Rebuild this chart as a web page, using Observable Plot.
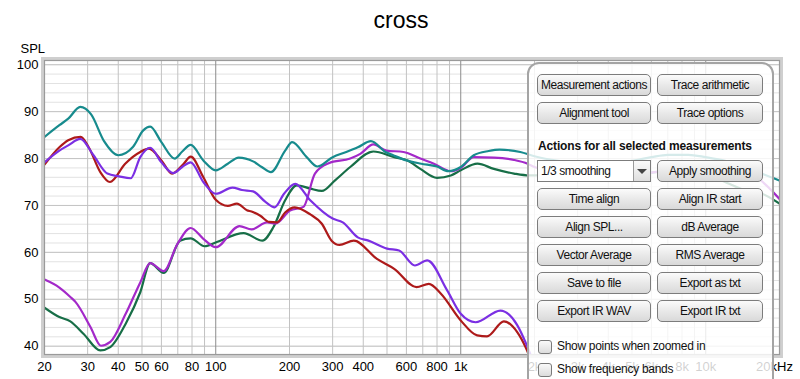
<!DOCTYPE html>
<html><head><meta charset="utf-8">
<script src="https://cdn.jsdelivr.net/npm/d3@7"></script>
<script src="https://cdn.jsdelivr.net/npm/@observablehq/plot@0.6"></script>
<style>
body{margin:0;background:#fff;overflow:hidden;}
#wrap{position:relative;width:800px;height:379px;font-family:"Liberation Sans",Arial,sans-serif;overflow:hidden;}
#panel{position:absolute;left:527px;top:62px;width:243px;height:340px;border:2px solid #a4a4a4;border-radius:12px;background:rgba(255,255,255,0.82);box-sizing:content-box;}
.btn{position:absolute;box-sizing:border-box;height:22px;border:1px solid #7c7c7c;border-radius:5px;background:linear-gradient(#fbfbfb,#e9e9e9 50%,#d9d9d9);font-size:12px;letter-spacing:-0.45px;color:#111;text-align:center;line-height:20px;white-space:nowrap;}
.c1{left:537px;width:114px;}
.c2{left:657px;width:106px;}
.hdr{position:absolute;left:538px;top:139px;font-size:12px;font-weight:bold;letter-spacing:-0.15px;color:#111;white-space:nowrap;}
.dd{position:absolute;left:537px;top:160px;width:114px;height:22px;box-sizing:border-box;border:1px solid #7c7c7c;background:#fff;font-size:12px;letter-spacing:-0.45px;line-height:20px;padding-left:3px;color:#111;}
.dd .arr{position:absolute;right:0;top:0;width:16px;height:20px;border-left:1px solid #9a9a9a;background:linear-gradient(#fbfbfb,#dedede);}
.dd .arr:after{content:"";position:absolute;left:3px;top:8px;border-left:5px solid transparent;border-right:5px solid transparent;border-top:5px solid #444;}
.cb{position:absolute;left:538px;width:14px;height:14px;box-sizing:border-box;border:1px solid #7a7a7a;border-radius:3px;background:linear-gradient(#fafafa,#dcdcdc);}
.cbt{position:absolute;left:557px;font-size:12px;letter-spacing:-0.3px;color:#111;white-space:nowrap;}
</style>
</head><body>
<div id="wrap"></div>
<script>
// ---------- data ----------
const tealFreq = [20,23,25,28,31,35,40,46,50.6,54,60,68,73,79,89,100,112,124,142,154,168,192,205,235,260,300,341,380,430,493,530,600,690,800,890,1000,1130,1300,1440,1750,2000,2500,3000,4000,5000,6000,7000,8500,10000,12000,14000,17500,20000];
const tealSpl  = [84.6,87.1,88.5,91.0,89.4,83.7,80.7,82.5,86.0,86.8,83.5,80.0,81.5,82.9,79.6,77.5,78.9,80.2,79.4,78.2,77.1,81.7,83.5,80.3,78.3,80.3,81.4,82.4,83.7,81.4,80.7,79.6,78.9,78.3,77.3,78.2,80.7,81.6,81.9,81.4,80.5,79.5,79.0,79.0,79.5,80.3,80.8,80.8,80.3,79.5,78.3,76.5,75.3];

const redFreq = [20,23,25,28.1,30.3,33.8,37,42.7,49.2,53.3,60,66.3,74,79,89,100,112,122,134,140,152,165,178,192,210,243,271,297,320,366,455,535,660,741,830,1000,1167,1280,1500,1700,1850,2000,2200];
const redSpl  = [78.7,82.4,83.9,84.6,82.4,77.1,75.0,78.9,81.4,82.1,79.6,76.8,78.9,80.4,76.0,71.2,69.9,70.4,69.0,68.7,67.8,66.5,66.4,68.5,69.6,68.1,66.1,62.5,61.6,62.5,58.6,56.5,52.6,53.3,51.2,45.5,42.3,42.1,45.3,43.0,39.5,35.0,30.0];

const violetFreq = [20,23,25,28,31.7,36.1,40.3,45,49.2,54,60,67,73,79,89,100,117,128,142,160,174,190,211,243,300,330,380,420,500,560,650,730,880,1000,1150,1450,1700,1850,2000,2200];
const violetSpl  = [79.2,81.7,82.8,84.2,80.7,76.8,76.2,75.8,80.3,82.3,79.2,76.9,78.2,79.2,75.0,72.5,73.8,73.3,73.0,70.7,69.6,72.5,74.6,71.1,67.2,66.4,63.2,62.5,60.8,60.4,57.2,58.3,51.9,46.9,45.1,47.6,44.5,40.5,36.0,31.0];

const magentaFreq = [20,23,25.5,26.8,30.8,34,37.1,42.9,49.2,54,61.3,69.8,79,89,100,125,140,162,175,201,228,254,289,354,389,440,498,584,684,777,911,1000,1130,1365,1650,1875,2000,2500,3000,4000,5000,6000,8000,10000,13000,15200,17500,20000];
const magentaSpl  = [54.2,52.5,50.5,49.4,44.1,40.1,40.9,46.9,53.6,57.7,56.0,61.8,65.2,62.9,61.1,65.6,64.9,66.4,66.1,68.9,69.7,76.8,79.0,80.0,81.0,83.0,81.7,81.4,80.0,78.9,77.3,78.0,80.3,80.2,79.7,78.9,78.2,77.0,76.0,75.5,76.0,77.0,77.8,78.0,77.5,77.0,74.5,71.4];

const greenFreq = [20,23,25.5,28.9,33.8,37.1,42.9,49.2,54,61.3,71.5,79,90,101,130,155,172,192,214,243,271,306,354,440,535,606,684,800,911,1000,1170,1365,1650,1900,2500,3000,4000,5000,6000,8000,10000,12000,14000,17000,20000];
const greenSpl  = [48.2,46.2,45.3,42.6,39.1,39.8,44.8,51.5,57.7,55.6,62.5,63.0,61.3,62.2,64.1,62.5,65.4,71.1,74.3,73.6,73.1,75.3,78.2,81.5,80.3,79.6,77.8,75.9,76.4,77.5,78.9,77.8,76.8,76.4,76.5,76.5,76.0,76.5,77.0,77.5,77.0,75.0,73.5,72.5,70.4];

const seriesNames  = ["hp B","hp A","lp A","lp B","sum"];
const seriesColors = ["#176e47","#a329c9","#ad1a1a","#7b2fe3","#178b8d"];

const xLabelTicks = [20,30,40,50,60,80,100,200,300,400,600,800,1000,2000,3000,4000,5000,6000,8000,10000,20000];
const xLabelText  = ["20","30","40","50","60","80","100","200","300","400","600","800","1k","2k","3k","4k","5k","6k","8k","10k","20kHz"];
const xGridMinor  = [30,40,50,60,70,80,90,200,300,400,500,600,700,800,900,2000,3000,4000,5000,6000,7000,8000,9000];
const xGridDecade = [100,1000,10000];
const yTicks      = [40,50,60,70,80,90,100];
const yGridMinor  = [40,42,44,46,48,50,52,54,56,58,60,62,64,66,68,70,72,74,76,78,80,82,84,86,88,90,92,94,96,98,100];

const titleText = "cross";
const yAxisName = "SPL";

// ---------- build ----------
const pairs = [[greenFreq, greenSpl],[magentaFreq, magentaSpl],[redFreq, redSpl],[violetFreq, violetSpl],[tealFreq, tealSpl]];
const rows = [];
seriesNames.forEach((name, k) => {
  const [fs, vs] = pairs[k];
  fs.forEach((f, i) => rows.push({series: name, f, spl: vs[i]}));
});
const xLabels = xLabelTicks.map((t, i) => ({f: t, text: xLabelText[i], shift: t === 20000 ? -5 : 0}));

const chart = Plot.plot({
  width: 800, height: 379,
  marginLeft: 44, marginRight: 21, marginTop: 60, marginBottom: 25,
  style: {fontFamily: "'Liberation Sans', Arial, sans-serif", fontSize: "13px", color: "#000", background: "#fff"},
  x: {type: "log", domain: [20, 20000], label: null, axis: null},
  y: {domain: [38.23, 100.9], label: null},
  color: {domain: seriesNames, range: seriesColors},
  marks: [
    Plot.ruleY(yGridMinor, {stroke: "#e2e2e2", strokeWidth: 1}),
    Plot.ruleY(yTicks, {stroke: "#c4c4c4", strokeWidth: 1}),
    Plot.ruleX(xGridMinor, {stroke: "#c2c2c2", strokeWidth: 1}),
    Plot.ruleX(xGridDecade, {stroke: "#8c8c8c", strokeWidth: 1}),
    Plot.line(rows, {x: "f", y: "spl", z: "series", stroke: "series", strokeWidth: 2.2, curve: "monotone-x", clip: true}),
    Plot.frame({stroke: "#cfcfcf", strokeWidth: 3, inset: -2}),
    Plot.frame({stroke: "#9a9a9a", strokeWidth: 1.2}),
    Plot.text(xLabels.filter(d => d.shift === 0), {x: "f", text: "text", frameAnchor: "bottom", lineAnchor: "top", dy: 7, fontSize: 13}),
    Plot.text(xLabels.filter(d => d.shift !== 0), {x: "f", text: "text", frameAnchor: "bottom", lineAnchor: "top", dy: 7, dx: -5, fontSize: 13}),
    Plot.axisY({ticks: yTicks, tickSize: 0, tickPadding: 6, fontSize: 13}),
    Plot.text([titleText], {frameAnchor: "top", dy: -40, dx: -11, lineAnchor: "middle", fontSize: 23}),
    Plot.text([yAxisName], {frameAnchor: "top-left", dx: -24, dy: -12, textAnchor: "start", lineAnchor: "middle", fontSize: 13})
  ]
});
const wrap = document.getElementById("wrap");
wrap.appendChild(chart);

// ---------- overlay panel (REW controls) ----------
const leftButtons  = ["Measurement actions","Alignment tool","Time align","Align SPL...","Vector Average","Save to file","Export IR WAV"];
const rightButtons = ["Trace arithmetic","Trace options","Align IR start","dB Average","RMS Average","Export as txt","Export IR txt"];
const buttonTops   = [74,102,188,216,244,272,300];
const panelHeader  = "Actions for all selected measurements";
const smoothingText = "1/3 smoothing";
const applyText    = "Apply smoothing";
const checkTexts   = ["Show points when zoomed in","Show frequency bands"];
const checkTops    = [340,363];

function add(cls, text, style) {
  const d = document.createElement("div");
  d.className = cls; if (text != null) d.textContent = text;
  Object.assign(d.style, style || {});
  wrap.appendChild(d); return d;
}
add("", null).id = "panel";
leftButtons.forEach((t, i) => add("btn c1", t, {top: buttonTops[i] + "px"}));
rightButtons.forEach((t, i) => add("btn c2", t, {top: buttonTops[i] + "px"}));
add("hdr", panelHeader);
const dd = add("dd", smoothingText);
const arr = document.createElement("div"); arr.className = "arr"; dd.appendChild(arr);
add("btn c2", applyText, {top: "160px"});
checkTexts.forEach((t, i) => {
  add("cb", null, {top: checkTops[i] + "px"});
  add("cbt", t, {top: (checkTops[i] - 1) + "px"});
});
</script>
</body></html>
